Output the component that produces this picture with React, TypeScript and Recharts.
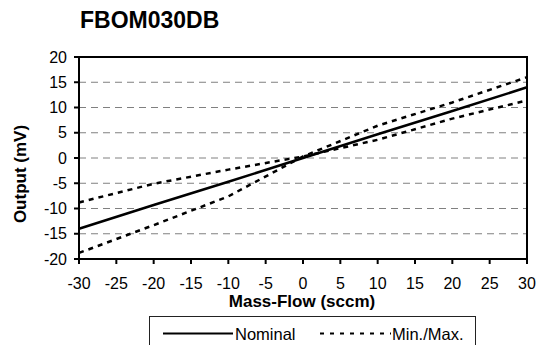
import React from "react";
import {
  LineChart,
  Line,
  XAxis,
  YAxis,
  CartesianGrid,
  ReferenceArea,
  Legend,
} from "recharts";

const FONT = '"Liberation Sans", Arial, Helvetica, sans-serif';

const flow = [-30, -20, -10, 0, 10, 20, 30];
const nominal = [-14, -9.3, -4.7, 0, 4.7, 9.3, 14];
const limitA = [-8.8, -5.1, -2.3, 0.3, 3.6, 7.8, 11.4];
const limitB = [-18.8, -13.3, -7.6, 0.3, 6.4, 11, 16];
const xTicks = [-30, -25, -20, -15, -10, -5, 0, 5, 10, 15, 20, 25, 30];
const yTicks = [-20, -15, -10, -5, 0, 5, 10, 15, 20];

const data = flow.map((x, i) => ({
  x,
  nominal: nominal[i],
  limitA: limitA[i],
  limitB: limitB[i],
}));

const LegendBox = () => (
  <div
    style={{
      width: 327,
      height: 40,
      border: "1px solid #222",
      boxSizing: "border-box",
      background: "#fff",
    }}
  >
    <svg width={325} height={38} style={{ display: "block" }}>
      <line x1={13} x2={83} y1={16.5} y2={16.5} stroke="#000" strokeWidth={2} />
      <text x={85} y={22.5} fontFamily={FONT} fontSize={16.5} fill="#000">
        Nominal
      </text>
      <line
        x1={170}
        x2={241}
        y1={16.5}
        y2={16.5}
        stroke="#000"
        strokeWidth={2}
        strokeDasharray="4 6"
      />
      <text x={242} y={22.5} fontFamily={FONT} fontSize={16.5} fill="#000">
        Min./Max.
      </text>
    </svg>
  </div>
);

export default function App() {
  return (
    <div
      style={{
        position: "absolute",
        left: 0,
        top: 0,
        width: 539,
        height: 345,
        background: "#fff",
        overflow: "hidden",
        fontFamily: FONT,
      }}
    >
      <div
        style={{
          position: "absolute",
          left: 80,
          top: 9,
          fontSize: 23,
          lineHeight: "23px",
          fontWeight: "bold",
          color: "#000",
          whiteSpace: "nowrap",
        }}
      >
        FBOM030DB
      </div>
      <div
        style={{
          position: "absolute",
          left: 20,
          top: 174,
          transform: "translate(-50%, -50%) rotate(-90deg)",
          fontSize: 17,
          lineHeight: "17px",
          fontWeight: "bold",
          color: "#000",
          whiteSpace: "nowrap",
        }}
      >
        Output (mV)
      </div>
      <div
        style={{
          position: "absolute",
          left: 302,
          top: 301,
          transform: "translate(-50%, -50%)",
          fontSize: 17,
          lineHeight: "17px",
          fontWeight: "bold",
          color: "#000",
          whiteSpace: "nowrap",
        }}
      >
        Mass-Flow (sccm)
      </div>
      <LineChart
        width={539}
        height={345}
        data={data}
        margin={{ top: 57, right: 12, left: 0, bottom: 56 }}
      >
        <CartesianGrid
          vertical={false}
          stroke="#808080"
          strokeDasharray="7 5"
          strokeWidth={1}
        />
        <XAxis
          dataKey="x"
          type="number"
          domain={[-30, 30]}
          ticks={xTicks}
          interval={0}
          height={30}
          stroke="#000"
          strokeWidth={2}
          tickSize={5}
          tickMargin={14}
          tick={{ fill: "#000", fontSize: 16, fontFamily: FONT }}
        />
        <YAxis
          type="number"
          domain={[-20, 20]}
          ticks={yTicks}
          interval={0}
          width={79}
          stroke="#000"
          strokeWidth={2}
          tickSize={5}
          tickMargin={7}
          tick={{ fill: "#000", fontSize: 16, fontFamily: FONT }}
        />
        <ReferenceArea
          x1={-30}
          x2={30}
          y1={-20}
          y2={20}
          fill="none"
          fillOpacity={0}
          stroke="#000"
          strokeWidth={2}
          ifOverflow="visible"
        />
        <Line
          dataKey="nominal"
          name="Nominal"
          stroke="#000"
          strokeWidth={2.5}
          dot={false}
          isAnimationActive={false}
        />
        <Line
          dataKey="limitA"
          name="Min./Max."
          stroke="#000"
          strokeWidth={2.5}
          strokeDasharray="5 5"
          dot={false}
          isAnimationActive={false}
        />
        <Line
          dataKey="limitB"
          name="Min./Max."
          stroke="#000"
          strokeWidth={2.5}
          strokeDasharray="5 5"
          dot={false}
          isAnimationActive={false}
        />
        <Legend
          layout="horizontal"
          verticalAlign="middle"
          align="center"
          content={() => <LegendBox />}
          wrapperStyle={{ left: 149, top: 316, width: 327, height: 40 }}
        />
      </LineChart>
    </div>
  );
}
